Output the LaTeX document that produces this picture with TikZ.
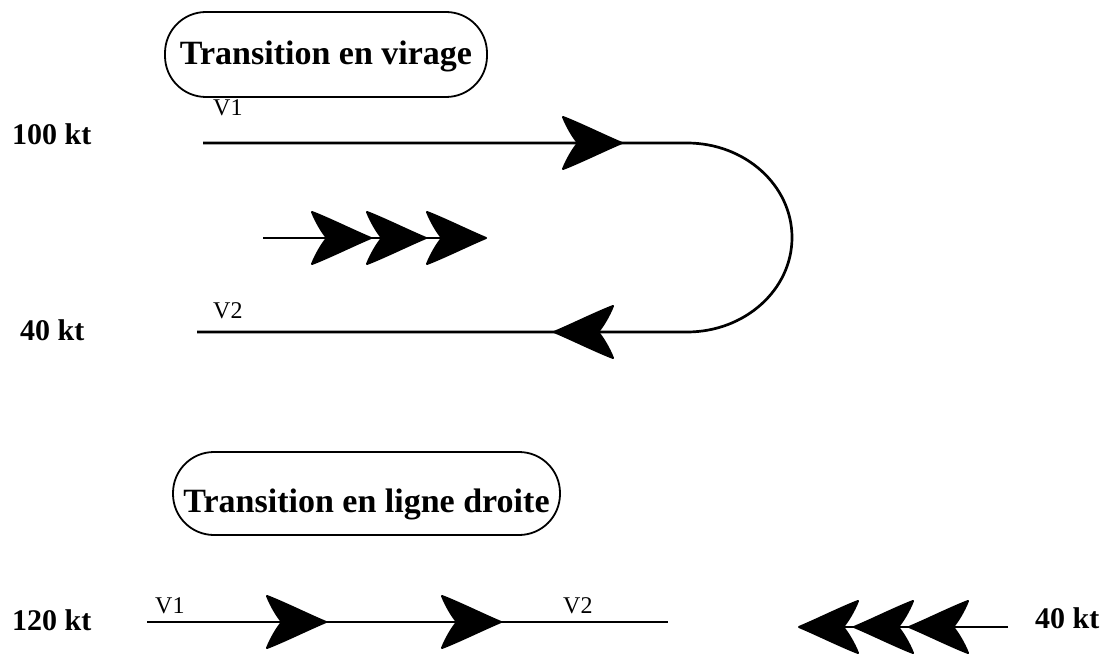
\documentclass[tikz,border=0pt]{standalone}
\usepackage{fontspec}
\setmainfont{Liberation Serif}
\begin{document}
\begin{tikzpicture}[x=1pt,y=-1pt,
  line/.style={line width=2.7pt},
  boxnode/.style={draw, line width=1.8pt, rounded corners=41pt, inner sep=0pt,
    font=\fontsize{34}{40}\selectfont\bfseries},
  speed/.style={anchor=base west, inner sep=0pt, font=\fontsize{30}{36}\selectfont\bfseries},
  vlabel/.style={anchor=base west, inner sep=0pt, font=\fontsize{24}{28}\selectfont},
  chevron/.pic={\filldraw[line width=2pt, line join=round] (-1,0) .. controls (-20,-8) and (-42,-19) .. (-60,-26)
      .. controls (-56,-16) and (-50,-6) .. (-45,0)
      .. controls (-50,6) and (-56,16) .. (-60,26)
      .. controls (-42,19) and (-20,8) .. (-1,0) -- cycle;}
]
\useasboundingbox (0,0) rectangle (1109,655);
\fill[white] (0,0) rectangle (1109,655);

% title boxes
\node[boxnode, minimum width=322pt, minimum height=85pt, text height=21pt, text depth=0pt]
  (box1) at (326,54.5) {Transition en virage};
\node[boxnode, minimum width=387pt, minimum height=83pt, text height=37pt, text depth=0pt]
  (box2) at (366.5,493.5) {Transition en ligne droite};

% speed labels
\node[speed] (s100) at (12,145) {100 kt};
\node[speed] (s40a) at (20,340) {40 kt};
\node[speed] (s120) at (12,630) {120 kt};
\node[speed] (s40b) at (1035,628) {40 kt};

% V labels
\node[vlabel] (v1a) at (213,116) {V1};
\node[vlabel] (v2a) at (213,318) {V2};
\node[vlabel] (v1b) at (155,613) {V1};
\node[vlabel] (v2b) at (563,613) {V2};

% turn transition
\coordinate (a1) at (203,143);
\coordinate (a2) at (687,143);
\coordinate (b1) at (197,332);
\draw[line] (a1) -- (a2) arc[start angle=-90, end angle=90, x radius=105, y radius=94.5] -- (b1);
\pic at (623,143) {chevron};
\pic[rotate=180] at (553,332) {chevron};

% triple arrow
\coordinate (t0) at (263,238);
\coordinate (t1) at (460,238);
\draw[line] (t0) -- (t1);
\pic at (372,238) {chevron};
\pic at (427,238) {chevron};
\pic at (487,238) {chevron};

% straight-line transition
\coordinate (c1) at (147,622);
\coordinate (c2) at (668,622);
\draw[line] (c1) -- (c2);
\pic at (327,622) {chevron};
\pic at (502,622) {chevron};

\coordinate (d1) at (1008,627);
\coordinate (d0) at (810,627);
\draw[line] (d1) -- (d0);
\pic[rotate=180] at (798,627) {chevron};
\pic[rotate=180] at (853,627) {chevron};
\pic[rotate=180] at (908,627) {chevron};
\end{tikzpicture}
\end{document}
